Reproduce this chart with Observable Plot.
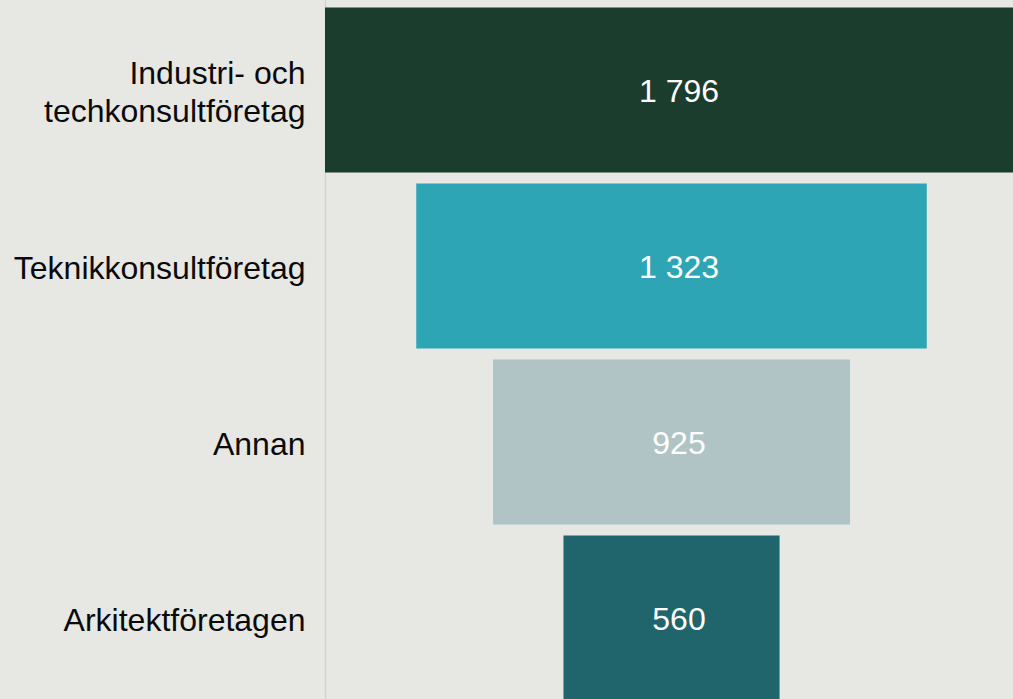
<!DOCTYPE html>
<html>
<head>
<meta charset="utf-8">
<script src="https://cdn.jsdelivr.net/npm/d3@7"></script>
<script src="https://cdn.jsdelivr.net/npm/@observablehq/plot@0.6"></script>
<style>
  html, body { margin: 0; padding: 0; background: #e7e7e3; overflow: hidden; }
</style>
</head>
<body>
<div id="chart"></div>
<script>
const categories = ["Industri- och techkonsultföretag", "Teknikkonsultföretag", "Annan", "Arkitektföretagen"];
const labelLines = ["Industri- och\ntechkonsultföretag", "Teknikkonsultföretag", "Annan", "Arkitektföretagen"];
const values = [1796, 1323, 925, 560];
const palette = ["#1b3d2d", "#2ea5b5", "#b0c4c5", "#1f656b"];

const data = categories.map((c, i) => ({category: c, label: labelLines[i], value: values[i]}));
const fmt = d3.formatLocale({decimal: ",", thousands: "\u00a0", grouping: [3], currency: ["", " kr"]}).format(",d");
const half = d3.max(values) / 2;

const chart = Plot.plot({
  width: 1013,
  height: 699,
  marginLeft: 325,
  marginRight: 0,
  marginTop: 0,
  marginBottom: 0,
  style: {background: "#e7e7e3", fontFamily: "'Liberation Sans', Arial, sans-serif"},
  x: {axis: null, domain: [-half, half * 0.9855], range: [325, 1013]},
  y: {axis: null, domain: categories, range: [2, 706], paddingInner: 0.0625, paddingOuter: 0.03125, round: false},
  color: {domain: categories, range: palette},
  marks: [
    Plot.frame({anchor: "left", stroke: "#d3d3cf", strokeWidth: 1.5}),
    Plot.barX(data, {x1: d => -d.value / 2, x2: d => d.value / 2, y: "category", fill: "category", clip: true}),
    Plot.text(data, {y: "category", frameAnchor: "left", dx: -20, textAnchor: "end", text: "label",
      fontSize: 32, lineHeight: 1.18, fill: "#0a0a0a", dy: 0.5}),
    Plot.text(data, {x: d => (-d.value / 2 + d.value / 2) / 2, y: "category", text: d => fmt(d.value),
      fill: "white", fontSize: 32, dx: 7, dy: 1})
  ]
});
document.getElementById("chart").appendChild(chart);
</script>
</body>
</html>
